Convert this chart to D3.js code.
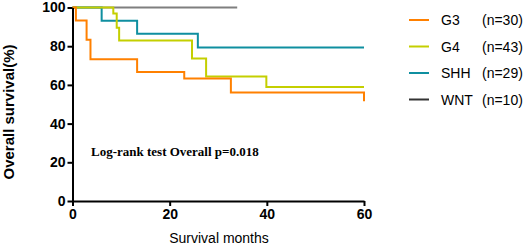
<!DOCTYPE html>
<html>
<head>
<meta charset="utf-8">
<script src="https://cdn.jsdelivr.net/npm/d3@7"></script>
<style>
  body { margin: 0; background: #fff; }
  svg { display: block; }
</style>
</head>
<body>
<div id="chart"></div>
<script>
// Kaplan-Meier steps (months, survival %)
var groups = ["G3", "G4", "SHH", "WNT"];
var counts = ["(n=30)", "(n=43)", "(n=29)", "(n=10)"];
var colors = ["#ff8000", "#c4cf00", "#0f8fa0", "#7f7f7f"];
var legendColors = ["#ff8000", "#c4cf00", "#0f8fa0", "#333333"];

var g3Months  = [0, 0.7, 2.9, 3.7, 13.3, 23.0, 32.6, 60];
var g3Surv    = [100, 93.3, 83.3, 73.3, 66.7, 63.3, 56.1, 51.5];
var g4Months  = [0, 8.4, 9.1, 9.6, 24.6, 27.5, 39.9, 60];
var g4Surv    = [100, 96.9, 89.5, 83.0, 73.7, 64.4, 58.9, 58.9];
var shhMonths = [0, 6.0, 13.3, 25.8, 60];
var shhSurv   = [100, 93.1, 86.4, 79.3, 79.3];
var wntMonths = [0, 33.9];
var wntSurv   = [100, 100];

var xTicks = [0, 20, 40, 60];
var yTicks = [0, 20, 40, 60, 80, 100];

var series = [
  d3.zip(g3Months, g3Surv),
  d3.zip(g4Months, g4Surv),
  d3.zip(shhMonths, shhSurv),
  d3.zip(wntMonths, wntSurv)
];

var W = 531, H = 248;
var margin = {top: 7.5, left: 72.5},
    width = 291.5,
    height = 193.5;

var x = d3.scaleLinear().domain([0, 60]).range([0, width]);
var y = d3.scaleLinear().domain([0, 100]).range([height, 0]);

var svg = d3.select("#chart").append("svg")
    .attr("width", W)
    .attr("height", H);

var g = svg.append("g")
    .attr("transform", "translate(" + margin.left + "," + margin.top + ")");

var line = d3.line()
    .curve(d3.curveStepAfter)
    .x(function(d) { return x(d[0]); })
    .y(function(d) { return y(d[1]); });

// draw WNT first so the others sit on top
[3, 2, 1, 0].forEach(function(i) {
  g.append("path")
    .datum(series[i])
    .attr("fill", "none")
    .attr("stroke", colors[i])
    .attr("stroke-width", 2)
    .attr("d", line);
});

// axes
var xAxis = g.append("g")
    .attr("transform", "translate(0," + height + ")")
    .call(d3.axisBottom(x).tickValues(xTicks).tickSize(5).tickPadding(3).tickSizeOuter(0));
var yAxis = g.append("g")
    .call(d3.axisLeft(y).tickValues(yTicks).tickSize(5).tickPadding(2).tickSizeOuter(0));

[xAxis, yAxis].forEach(function(a) {
  a.select(".domain").attr("stroke", "#000").attr("stroke-width", 2);
  a.selectAll(".tick line").attr("stroke", "#000").attr("stroke-width", 2);
  a.selectAll(".tick text")
    .style("font-family", "Liberation Sans, Arial, sans-serif")
    .style("font-size", "14px")
    .style("font-weight", "bold")
    .attr("fill", "#000");
});

// axis titles
svg.append("text")
  .attr("transform", "translate(14,112) rotate(-90)")
  .attr("text-anchor", "middle")
  .style("font-family", "Liberation Sans, Arial, sans-serif")
  .style("font-size", "15px")
  .style("font-weight", "bold")
  .text("Overall survival(%)");

svg.append("text")
  .attr("x", 219)
  .attr("y", 243)
  .attr("text-anchor", "middle")
  .style("font-family", "Liberation Sans, Arial, sans-serif")
  .style("font-size", "14px")
  .text("Survival months");

// log-rank note
svg.append("text")
  .attr("x", 91)
  .attr("y", 156)
  .style("font-family", "Liberation Serif, Times New Roman, serif")
  .style("font-size", "13px")
  .style("font-weight", "bold")
  .text("Log-rank test Overall p=0.018");

// legend
var legend = svg.append("g");
groups.forEach(function(name, i) {
  var ly = 20 + i * 26.5;
  legend.append("line")
    .attr("x1", 409).attr("x2", 429)
    .attr("y1", ly).attr("y2", ly)
    .attr("stroke", legendColors[i])
    .attr("stroke-width", 2);
  legend.append("text")
    .attr("x", 441).attr("y", ly + 5)
    .style("font-family", "Liberation Sans, Arial, sans-serif")
    .style("font-size", "14px")
    .text(name);
  legend.append("text")
    .attr("x", 482).attr("y", ly + 5)
    .style("font-family", "Liberation Sans, Arial, sans-serif")
    .style("font-size", "14px")
    .text(counts[i]);
});
</script>
</body>
</html>
